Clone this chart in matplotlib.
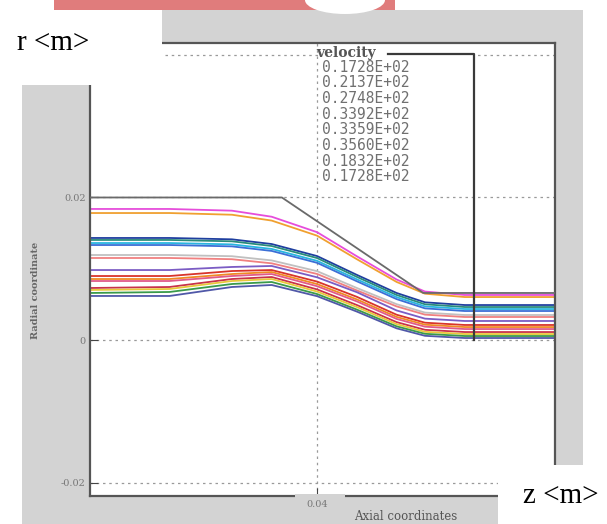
import matplotlib
matplotlib.use("Agg")
import matplotlib.pyplot as plt
from matplotlib.patches import Rectangle, Ellipse
from matplotlib.lines import Line2D

# axial stations (m) and radial position of each streamline (m)
z_st = [0.0, 0.014, 0.025, 0.032, 0.040, 0.047, 0.054, 0.059, 0.066, 0.082]
r_lines = [
    [0.01839, 0.01839, 0.01815, 0.01730, 0.01513, 0.01175, 0.00849, 0.00680, 0.00632, 0.00632],
    [0.01782, 0.01782, 0.01758, 0.01676, 0.01464, 0.01134, 0.00815, 0.00650, 0.00603, 0.00603],
    [0.01432, 0.01432, 0.01413, 0.01347, 0.01178, 0.00914, 0.00660, 0.00529, 0.00491, 0.00491],
    [0.01404, 0.01404, 0.01385, 0.01319, 0.01150, 0.00886, 0.00632, 0.00501, 0.00463, 0.00463],
    [0.01361, 0.01361, 0.01342, 0.01278, 0.01111, 0.00852, 0.00602, 0.00472, 0.00435, 0.00435],
    [0.01333, 0.01333, 0.01314, 0.01250, 0.01083, 0.00824, 0.00574, 0.00444, 0.00407, 0.00407],
    [0.01193, 0.01193, 0.01176, 0.01117, 0.00966, 0.00730, 0.00503, 0.00385, 0.00351, 0.00351],
    [0.01151, 0.01151, 0.01134, 0.01076, 0.00927, 0.00696, 0.00472, 0.00356, 0.00323, 0.00323],
    [0.00982, 0.00982, 0.01025, 0.01039, 0.00880, 0.00671, 0.00415, 0.00300, 0.00267, 0.00267],
    [0.00898, 0.00898, 0.00968, 0.00982, 0.00820, 0.00606, 0.00355, 0.00243, 0.00211, 0.00211],
    [0.00856, 0.00856, 0.00926, 0.00954, 0.00785, 0.00570, 0.00324, 0.00215, 0.00182, 0.00182],
    [0.00828, 0.00828, 0.00898, 0.00926, 0.00755, 0.00542, 0.00296, 0.00187, 0.00154, 0.00154],
    [0.00730, 0.00744, 0.00856, 0.00884, 0.00710, 0.00491, 0.00251, 0.00143, 0.00112, 0.00112],
    [0.00702, 0.00716, 0.00828, 0.00856, 0.00680, 0.00463, 0.00223, 0.00115, 0.00084, 0.00084],
    [0.00660, 0.00674, 0.00786, 0.00814, 0.00645, 0.00427, 0.00192, 0.00087, 0.00056, 0.00056],
    [0.00618, 0.00618, 0.00744, 0.00772, 0.00615, 0.00399, 0.00164, 0.00059, 0.00028, 0.00028],
]
line_colors = ["#e64ddb", "#f0a030", "#1f3f9f", "#2a8c7a", "#29b6e0", "#3b6fd6",
               "#c0c0c0", "#f08080", "#7b5cc4", "#d9342b", "#f08a24", "#e05a8a",
               "#c8324a", "#e8c83a", "#3a9a4a", "#5058a8"]

# nozzle wall contour
wall_z = [0.0, 0.0338, 0.0587, 0.082]
wall_r = [0.0200, 0.0200, 0.0066, 0.0066]

velocities = ["0.1728E+02", "0.2137E+02", "0.2748E+02", "0.3392E+02",
              "0.3359E+02", "0.3560E+02", "0.1832E+02", "0.1728E+02"]

W, H = 607, 524
GRAY = "#d3d3d3"


def fx(x):
    return x / W


def fy(y):
    return 1 - y / H


def box(x0, y0, x1, y1, color, z):
    fig.patches.append(Rectangle((fx(x0), fy(y1)), fx(x1) - fx(x0), fy(y0) - fy(y1),
                                 transform=fig.transFigure, facecolor=color,
                                 edgecolor="none", zorder=z))


fig = plt.figure(figsize=(6.07, 5.24), dpi=100)
box(22, 10, 583, 524, GRAY, -1)

ax = fig.add_axes([fx(90), fy(496), (555 - 90) / W, (496 - 43) / H])
ax.set_facecolor("white")
ax.set_xlim(0, 0.0819)
ax.set_ylim(-0.02189, 0.04168)

for yv in [0.04, 0.02, 0.0, -0.02]:
    ax.axhline(yv, color="#9a9a9a", lw=0.9, ls=(0, (2, 3)), zorder=1)
ax.axvline(0.04, color="#9a9a9a", lw=0.9, ls=(0, (2, 3)), zorder=1)

for r, c in zip(r_lines, line_colors):
    ax.plot(z_st, r, color=c, lw=1.3, zorder=2)
ax.plot(wall_z, wall_r, color="#6a6a6a", lw=1.3, zorder=3)

for s in ax.spines.values():
    s.set_color("#555555")
    s.set_linewidth(1.6)
ax.set_xticks([0.04])
ax.set_xticklabels(["0.04"])
ax.set_yticks([-0.02, 0.0, 0.02])
ax.set_yticklabels(["-0.02", "0", "0.02"])
ax.tick_params(direction="in", length=6, color="#444444", labelsize=7,
               labelcolor="#777777", pad=3)
for t in ax.get_xticklabels() + ax.get_yticklabels():
    t.set_family("DejaVu Serif")

# legend area
ax.add_patch(Rectangle((fx(319), fy(60)), fx(474) - fx(319), fy(44) - fy(60),
                       transform=fig.transFigure, facecolor="white",
                       edgecolor="none", zorder=1.5))
fig.lines.append(Line2D([fx(388), fx(474), fx(474)], [fy(54), fy(54), fy(340)],
                        transform=fig.transFigure, color="#3a3a3a", lw=1.6, zorder=4))
fig.text(fx(316), fy(53), "velocity", family="DejaVu Serif", fontsize=10,
         weight="bold", color="#555555", va="center", ha="left", zorder=8)
for i, v in enumerate(velocities):
    fig.text(fx(322), fy(67 + 15.7 * i), v, family="DejaVu Sans Mono", fontsize=10.5,
             color="#707070", va="center", ha="left", zorder=8)

# cover for spine behind the x tick label
box(295, 493.5, 345, 499, GRAY, 1)

# white corners and top banner
box(0, 0, 162, 85, "white", 5)
box(498, 465, 607, 524, "white", 5)
box(54, 0, 395, 10, "#e07c7c", 6)
fig.patches.append(Ellipse((fx(345), fy(0)), 80 / W, 28 / H, transform=fig.transFigure,
                           facecolor="white", edgecolor="none", zorder=7))

fig.text(fx(36), fy(290), "Radial coordinate", rotation=90, fontsize=7,
         family="DejaVu Serif", weight="bold", color="#666666",
         ha="center", va="center", zorder=8)
fig.text(fx(406), fy(510), "Axial coordinates", fontsize=8.5, family="DejaVu Serif",
         color="#555555", ha="center", va="top", zorder=8)
fig.text(fx(17), fy(50), "r <m>", fontsize=21, family="Liberation Serif",
         color="black", ha="left", va="baseline", zorder=8)
fig.text(fx(523), fy(503), "z <m>", fontsize=21, family="Liberation Serif",
         color="black", ha="left", va="baseline", zorder=8)

fig.savefig("out.png", dpi=100)
